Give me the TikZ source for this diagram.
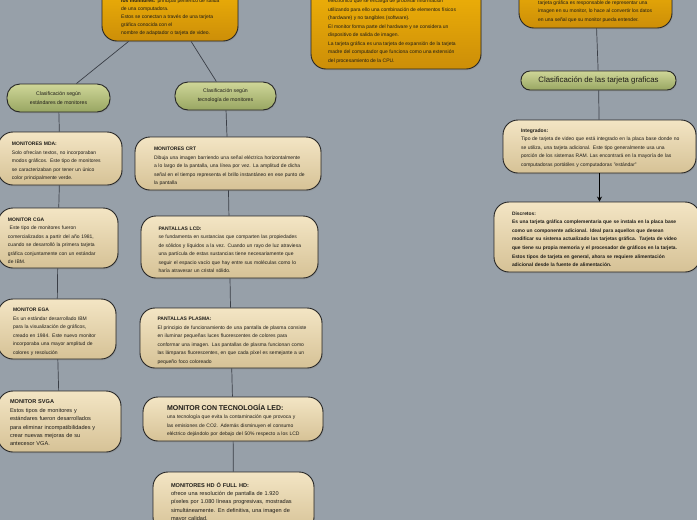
\documentclass[tikz,border=0pt]{standalone}
\usepackage{fontspec}
\setmainfont{Liberation Sans}
\usetikzlibrary{shadows,arrows.meta}
\definecolor{bg}{RGB}{151,160,169}
\definecolor{beT}{RGB}{243,229,196}
\definecolor{beB}{RGB}{214,194,150}
\definecolor{grT}{RGB}{207,214,152}
\definecolor{grB}{RGB}{152,166,98}
\definecolor{orT}{RGB}{246,184,8}
\definecolor{orB}{RGB}{204,142,8}
\definecolor{ln}{RGB}{58,62,70}
\definecolor{tx}{RGB}{30,28,24}
\newcommand\Rw[1]{\mbox{#1}}
\newcommand\TopA{\rule{0pt}{9.5pt}}
\newcommand\TopB{\rule{0pt}{7pt}}
\begin{document}
\begin{tikzpicture}[x=1pt,y=-1pt,
  basebox/.style={draw=black!85, line width=0.9pt, inner sep=0pt, align=left, text=tx,
    drop shadow={shadow xshift=0.8pt,shadow yshift=-1.3pt,opacity=0.3}},
  beige/.style={basebox, rounded corners=15pt, top color=beT, bottom color=beB},
  greenbox/.style={basebox, rounded corners=13pt, top color=grT, bottom color=grB, align=center},
  orangebox/.style={basebox, rounded corners=15pt, top color=orT, bottom color=orB},
  fa/.style={font=\fontsize{5.0}{8.5}\selectfont},
  fb/.style={font=\fontsize{5.6}{8.4}\selectfont},
  conn/.style={draw=ln, line width=0.7pt},
  txt/.style={inner sep=0pt, align=left, anchor=north west, text=tx}]
\fill[bg] (0,0) rectangle (697,520);
\useasboundingbox (0,0) rectangle (697,520);
\clip (0,0) rectangle (697,520);

% top orange boxes (cut by top edge)
\node[orangebox, minimum width=136pt, minimum height=66pt] (o1) at (170,8) {};
\node[txt, font=\fontsize{5.0}{8}\selectfont] (t1) at (121,-1.8) {\textbf{los monitores:} principal periférico de salida\\de una computadora.\\Estos se conectan a través de una tarjeta\\gráfica conocida con el\\nombre de adaptador o tarjeta de video.};

\node[orangebox, minimum width=170pt, minimum height=99pt] (o2) at (396,19.5) {};
\node[txt, font=\fontsize{5.0}{8.5}\selectfont] (t2) at (328,-1.3) {electrónico que se encarga de procesar información\\utilizando para ello una combinación de elementos físicos\\(hardware) y no tangibles (software).\\El monitor forma parte del hardware y se considera un\\dispositivo de salida de imagen.\\La tarjeta gráfica es una tarjeta de expansión de la tarjeta\\madre del computador que funciona como una extensión\\del procesamiento de la CPU.};

\node[orangebox, minimum width=153pt, minimum height=58pt] (o3) at (595.5,-1) {};
\node[txt, font=\fontsize{5.0}{8.5}\selectfont] (t3) at (538,0.2) {tarjeta gráfica es responsable de representar una\\imagen en su monitor, lo hace al convertir los datos\\en una señal que su monitor pueda entender.};

% green classification nodes
\node[greenbox, minimum width=103pt, minimum height=28pt, font=\fontsize{5.2}{9}\selectfont] (g4) at (58.5,98) {Clasificación según\\estándares de monitores};
\node[greenbox, minimum width=101pt, minimum height=28pt, font=\fontsize{5.2}{9}\selectfont] (g5) at (225.5,96) {Clasificación según\\tecnología de monitores};
\node[greenbox, rounded corners=9pt, minimum width=155pt, minimum height=19pt, font=\fontsize{7.8}{9}\selectfont] (g6) at (598.5,80.5) {Clasificación de las tarjeta graficas};

% left column
\node[beige, fa, minimum width=124pt, minimum height=53pt, text width=96pt] (mda) at (60,158.5) {\TopA\textbf{MONITORES MDA:}\\\Rw{Solo ofrecían textos, no incorporaban}\\\Rw{modos gráficos. Este tipo de monitores}\\\Rw{se caracterizaban por tener un único}\\color principalmente verde.};
\node[beige, fa, minimum width=120pt, minimum height=60pt, text width=100pt] (cga) at (58,238) {\TopA\textbf{MONITOR CGA}\\\ Este tipo de monitores fueron\\\Rw{comercializados a partir del año 1981,}\\\Rw{cuando se desarrolló la primera tarjeta}\\\Rw{gráfica conjuntamente con un estándar}\\de IBM.};
\node[beige, fa, minimum width=118pt, minimum height=60pt, text width=88pt] (ega) at (57,329) {\TopA\textbf{MONITOR EGA}\\\Rw{Es un estándar desarrollado IBM}\\\Rw{para la visualización de gráficos,}\\\Rw{creado en 1984. Este nuevo monitor}\\\Rw{incorporaba una mayor amplitud de}\\colores y resolución};
\node[beige, fb, minimum width=123pt, minimum height=61pt, text width=99pt] (svga) at (59.5,421.5) {\TopB\textbf{MONITOR SVGA}\\\Rw{Estos tipos de monitores y}\\\Rw{estándares fueron desarrollados}\\\Rw{para eliminar incompatibilidades y}\\\Rw{crear nuevas mejoras de su}\\antecesor VGA.};

% middle column
\node[beige, fa, minimum width=186pt, minimum height=53pt, text width=148pt] (crt) at (228,163.5) {\TopA\textbf{MONITORES CRT}\\\Rw{Dibuja una imagen barriendo una señal eléctrica horizontalmente}\\\Rw{a lo largo de la pantalla, una línea por vez. La amplitud de dicha}\\\Rw{señal en el tiempo representa el brillo instantáneo en ese punto de}\\la pantalla};
\node[beige, fa, minimum width=177pt, minimum height=62pt, text width=142pt] (lcd) at (229.5,247) {\TopA\textbf{PANTALLAS LCD:}\\\Rw{se fundamenta en sustancias que comparten las propiedades}\\\Rw{de sólidos y líquidos a la vez. Cuando un rayo de luz atraviesa}\\\Rw{una partícula de estas sustancias tiene necesariamente que}\\\Rw{seguir el espacio vacío que hay entre sus moléculas como lo}\\\Rw{haría atravesar un cristal sólido.}};
\node[beige, fa, minimum width=182pt, minimum height=60pt, text width=147pt] (plasma) at (231,338) {\TopA\textbf{PANTALLAS PLASMA:}\\\Rw{El principio de funcionamiento de una pantalla de plasma consiste}\\\Rw{en iluminar pequeñas luces fluorescentes de colores para}\\\Rw{conformar una imagen. Las pantallas de plasma funcionan como}\\\Rw{las lámparas fluorescentes, en que cada píxel es semejante a un}\\pequeño foco coloreado};
\node[beige, fa, minimum width=180pt, minimum height=44pt, text width=132pt] (led) at (233,419) {{\fontsize{7.0}{8}\selectfont\rule{0pt}{9.5pt}\textbf{\Rw{MONITOR CON TECNOLOGÍA LED:}}}\\\Rw{una tecnología que evita la contaminación que provoca y}\\\Rw{las emisiones de CO2. Además disminuyen el consumo}\\\Rw{eléctrico dejándolo por debajo del 50\% respecto a los LCD}};
\node[beige, fb, minimum width=161pt, minimum height=60pt, text width=125pt] (hd) at (233.5,502) {\textbf{MONITORES HD Ó FULL HD:}\\\Rw{ofrece una resolución de pantalla de 1.920}\\\Rw{píxeles por 1.080 líneas progresivas, mostradas}\\\Rw{simultáneamente. En definitiva, una imagen de}\\mayor calidad.};

% right column
\node[beige, fa, minimum width=193pt, minimum height=53pt, text width=157pt] (integ) at (599.5,146.5) {\TopB\textbf{Integrados:}\\\Rw{Tipo de tarjeta de video que está integrado en la placa base donde no}\\\Rw{se utiliza, una tarjeta adicional. Este tipo generalmente usa una}\\\Rw{porción de los sistemas RAM. Las encontrará en la mayoría de las}\\\Rw{computadoras portátiles y computadoras "estándar"}};
\node[beige, font=\fontsize{4.9}{8.6}\selectfont\bfseries, minimum width=206pt, minimum height=70pt, text width=170pt] (disc) at (597,237) {\rule{0pt}{8pt}Discretos:\\\Rw{Es una tarjeta gráfica complementaria que se instala en la placa base}\\\Rw{como un componente adicional. Ideal para aquellos que desean}\\\Rw{modificar su sistema actualizado las tarjetas gráfica.\ \ Tarjeta de video}\\\Rw{que tiene su propia memoria y el procesador de gráficos en la tarjeta.}\\\Rw{Estos tipos de tarjeta en general, ahora se requiere alimentación}\\\Rw{adicional desde la fuente de alimentación.}};

% connectors
\draw[conn] (o1) -- (g4);
\draw[conn] (o1) -- (g5);
\draw[conn] (o3) -- (g6);
\draw[conn] (g4) -- (mda);
\draw[conn] (mda) -- (cga);
\draw[conn] (cga) -- (ega);
\draw[conn] (ega) -- (svga);
\draw[conn] (g5) -- (crt);
\draw[conn] (crt) -- (lcd);
\draw[conn] (lcd) -- (plasma);
\draw[conn] (plasma) -- (led);
\draw[conn] (led) -- (hd);
\draw[conn] (g6) -- (integ);
\draw[black, line width=1.6pt, -{Stealth[length=5pt,width=5pt]}] (integ.south) -- (integ.south |- disc.north);
\end{tikzpicture}
\end{document}
